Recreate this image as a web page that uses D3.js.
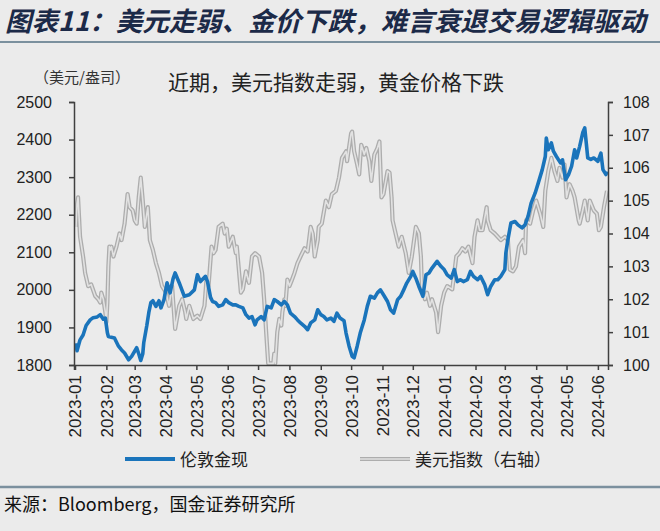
<!DOCTYPE html>
<html><head><meta charset="utf-8">
<script src="https://cdn.jsdelivr.net/npm/d3@7"></script>
<style>
html,body{margin:0;padding:0;background:#ebebeb;}
svg{display:block;}
</style></head>
<body>
<svg id="chart" width="660" height="531"></svg>
<script>
const titleText = "图表11：美元走弱、金价下跌，难言衰退交易逻辑驱动";
const subtitleText = "近期，美元指数走弱，黄金价格下跌";
const unitText = "（美元/盎司）";
const sourceText = "来源：Bloomberg，国金证券研究所";
const seriesNames = ["伦敦金现", "美元指数（右轴）"];
const leftTicks = [1800, 1900, 2000, 2100, 2200, 2300, 2400, 2500];
const rightTicks = [100, 101, 102, 103, 104, 105, 106, 107, 108];

const goldDates = ["2023-01-02","2023-01-03","2023-01-06","2023-01-09","2023-01-12","2023-01-16","2023-01-19","2023-01-23","2023-01-26","2023-01-29","2023-01-31","2023-02-02","2023-02-03","2023-02-06","2023-02-09","2023-02-13","2023-02-16","2023-02-19","2023-02-23","2023-02-26","2023-03-03","2023-03-05","2023-03-07","2023-03-09","2023-03-10","2023-03-13","2023-03-15","2023-03-17","2023-03-19","2023-03-22","2023-03-25","2023-03-27","2023-03-30","2023-04-02","2023-04-05","2023-04-08","2023-04-10","2023-04-14","2023-04-19","2023-04-24","2023-04-29","2023-05-02","2023-05-05","2023-05-10","2023-05-12","2023-05-15","2023-05-17","2023-05-20","2023-05-23","2023-05-27","2023-05-30","2023-06-02","2023-06-06","2023-06-09","2023-06-12","2023-06-16","2023-06-19","2023-06-22","2023-06-25","2023-06-28","2023-06-30","2023-07-04","2023-07-07","2023-07-10","2023-07-14","2023-07-17","2023-07-20","2023-07-24","2023-07-27","2023-07-30","2023-08-02","2023-08-06","2023-08-09","2023-08-12","2023-08-16","2023-08-19","2023-08-22","2023-08-26","2023-08-29","2023-09-01","2023-09-04","2023-09-07","2023-09-11","2023-09-14","2023-09-17","2023-09-20","2023-09-24","2023-09-26","2023-09-29","2023-10-02","2023-10-04","2023-10-07","2023-10-10","2023-10-14","2023-10-17","2023-10-20","2023-10-24","2023-10-27","2023-10-30","2023-11-02","2023-11-06","2023-11-09","2023-11-12","2023-11-16","2023-11-19","2023-11-22","2023-11-25","2023-11-29","2023-12-01","2023-12-04","2023-12-07","2023-12-11","2023-12-14","2023-12-17","2023-12-20","2023-12-25","2023-12-29","2024-01-01","2024-01-04","2024-01-08","2024-01-11","2024-01-14","2024-01-17","2024-01-20","2024-01-24","2024-01-27","2024-01-30","2024-02-03","2024-02-06","2024-02-10","2024-02-13","2024-02-16","2024-02-20","2024-02-23","2024-02-26","2024-03-01","2024-03-02","2024-03-04","2024-03-07","2024-03-11","2024-03-14","2024-03-18","2024-03-21","2024-03-24","2024-03-27","2024-03-31","2024-04-03","2024-04-07","2024-04-10","2024-04-11","2024-04-13","2024-04-16","2024-04-18","2024-04-21","2024-04-25","2024-04-27","2024-04-30","2024-05-03","2024-05-06","2024-05-09","2024-05-11","2024-05-14","2024-05-17","2024-05-19","2024-05-22","2024-05-25","2024-05-28","2024-06-01","2024-06-04","2024-06-06","2024-06-09","2024-06-10"];
const goldPrice = [1858,1838,1867,1880,1905,1920,1926,1928,1934,1922,1925,1886,1876,1874,1872,1850,1840,1832,1814,1823,1846,1830,1812,1830,1860,1905,1940,1966,1971,1956,1971,1952,1974,2019,1992,2030,2045,2019,1983,1987,2000,2040,2022,2036,2022,1980,1969,1966,1956,1960,1974,1966,1960,1960,1956,1952,1934,1925,1929,1907,1920,1929,1920,1956,1952,1974,1969,1960,1969,1960,1938,1929,1920,1912,1903,1894,1912,1920,1947,1934,1929,1920,1925,1916,1938,1925,1918,1885,1850,1823,1819,1850,1885,1920,1956,1983,1978,1992,2000,1987,1969,1947,1938,1974,1983,2000,2018,2036,2049,2031,2009,1983,2040,2045,2058,2076,2062,2054,2040,2031,2054,2022,2027,2022,2027,2049,2036,2027,2036,2014,1987,2009,2027,2027,2036,2054,2098,2133,2178,2182,2173,2165,2173,2196,2231,2258,2284,2320,2355,2404,2373,2391,2369,2355,2338,2346,2293,2307,2329,2373,2351,2382,2418,2431,2351,2347,2351,2342,2364,2320,2307,2315];

const dxyDates = ["2023-01-02","2023-01-03","2023-01-04","2023-01-05","2023-01-06","2023-01-09","2023-01-11","2023-01-14","2023-01-17","2023-01-21","2023-01-24","2023-01-26","2023-01-27","2023-01-29","2023-01-31","2023-02-01","2023-02-02","2023-02-03","2023-02-04","2023-02-05","2023-02-06","2023-02-08","2023-02-11","2023-02-14","2023-02-16","2023-02-19","2023-02-22","2023-02-24","2023-02-27","2023-03-01","2023-03-03","2023-03-05","2023-03-07","2023-03-09","2023-03-11","2023-03-14","2023-03-16","2023-03-19","2023-03-22","2023-03-25","2023-03-28","2023-04-01","2023-04-04","2023-04-07","2023-04-10","2023-04-14","2023-04-17","2023-04-20","2023-04-21","2023-04-24","2023-04-28","2023-05-02","2023-05-05","2023-05-09","2023-05-11","2023-05-13","2023-05-16","2023-05-18","2023-05-20","2023-05-23","2023-05-27","2023-05-29","2023-05-31","2023-06-02","2023-06-06","2023-06-09","2023-06-10","2023-06-14","2023-06-16","2023-06-19","2023-06-22","2023-06-25","2023-06-28","2023-07-02","2023-07-05","2023-07-07","2023-07-09","2023-07-11","2023-07-14","2023-07-16","2023-07-17","2023-07-18","2023-07-20","2023-07-22","2023-07-24","2023-07-25","2023-07-27","2023-07-28","2023-07-30","2023-08-01","2023-08-03","2023-08-06","2023-08-09","2023-08-12","2023-08-16","2023-08-19","2023-08-22","2023-08-24","2023-08-26","2023-08-29","2023-08-30","2023-09-02","2023-09-06","2023-09-09","2023-09-12","2023-09-16","2023-09-19","2023-09-22","2023-09-26","2023-09-27","2023-10-01","2023-10-02","2023-10-04","2023-10-07","2023-10-09","2023-10-11","2023-10-14","2023-10-16","2023-10-19","2023-10-21","2023-10-24","2023-10-27","2023-10-29","2023-10-31","2023-11-02","2023-11-06","2023-11-08","2023-11-10","2023-11-11","2023-11-14","2023-11-17","2023-11-20","2023-11-24","2023-11-27","2023-11-30","2023-12-04","2023-12-07","2023-12-09","2023-12-10","2023-12-13","2023-12-15","2023-12-18","2023-12-20","2023-12-24","2023-12-26","2023-12-29","2024-01-01","2024-01-04","2024-01-09","2024-01-13","2024-01-16","2024-01-19","2024-01-22","2024-01-25","2024-01-29","2024-01-31","2024-02-03","2024-02-05","2024-02-08","2024-02-12","2024-02-13","2024-02-16","2024-02-20","2024-02-23","2024-02-26","2024-03-01","2024-03-04","2024-03-06","2024-03-09","2024-03-12","2024-03-15","2024-03-19","2024-03-21","2024-03-22","2024-03-26","2024-03-29","2024-04-01","2024-04-05","2024-04-08","2024-04-10","2024-04-13","2024-04-16","2024-04-19","2024-04-22","2024-04-24","2024-04-27","2024-04-29","2024-05-01","2024-05-04","2024-05-07","2024-05-09","2024-05-13","2024-05-14","2024-05-17","2024-05-19","2024-05-22","2024-05-24","2024-05-28","2024-05-31","2024-06-02","2024-06-04","2024-06-07","2024-06-10"];
const dxyValue = [104.2,104.9,105.1,104.5,103.9,103.3,102.8,102.4,102.45,102.1,102.0,101.9,102.2,102.0,101.6,101.3,101.9,103.0,103.6,103.5,103.6,103.3,103.6,104.0,103.8,104.3,105.2,104.8,104.7,104.4,104.3,105.1,105.7,105.0,104.2,104.8,103.8,103.5,103.1,102.8,102.4,102.2,101.8,102.4,101.1,101.8,102.0,101.6,101.4,101.8,101.4,101.5,101.4,101.8,102.6,102.4,103.6,103.4,103.5,104.2,104.3,104.0,104.15,103.6,103.9,103.4,103.6,102.2,102.3,102.85,102.5,103.3,103.4,103.3,102.8,102.0,101.0,100.05,100.05,100.05,100.35,100.05,101.0,101.4,101.2,101.6,102.0,101.8,102.6,102.4,102.55,102.8,103.1,103.3,103.55,103.45,104.2,104.0,103.3,103.8,104.2,104.3,105.0,104.8,105.2,105.3,105.7,106.3,106.5,106.2,107.05,107.1,106.5,106.1,105.8,106.7,106.4,106.6,106.2,105.6,106.4,106.6,106.8,105.1,105.2,105.9,105.85,105.1,104.4,104.0,103.6,103.9,103.4,102.8,103.3,104.2,104.0,103.3,102.4,102.0,102.2,101.8,102.0,101.6,101.0,101.8,102.2,102.4,102.3,103.3,103.4,103.55,103.45,103.6,103.1,103.9,104.4,104.1,104.1,104.8,104.4,104.1,104.0,103.9,103.8,103.9,103.8,102.9,102.85,103.0,103.6,103.8,103.4,104.4,104.3,104.7,105.0,104.6,104.2,105.3,105.9,106.3,105.9,105.6,106.0,105.7,106.1,105.1,105.5,105.3,105.1,104.4,104.3,104.7,105.0,104.4,105.0,104.7,104.6,104.1,104.2,104.8,105.3];

const parse = d3.timeParse("%Y-%m-%d");
const gold = goldDates.map((d, i) => ({date: parse(d), v: goldPrice[i]}));
const dxy = dxyDates.map((d, i) => ({date: parse(d), v: dxyValue[i]}));

const svg = d3.select("#chart");
const cjk = "'Noto Sans CJK SC', 'Noto Sans', sans-serif";
const latin = "'Liberation Sans', Arial, sans-serif";

// title
svg.append("text").attr("x", 5).attr("y", 31)
  .attr("font-family", cjk).attr("font-size", 26.5).attr("font-weight", "bold")
  .attr("font-style", "italic").attr("fill", "#1c2a48").text(titleText);
svg.append("line").attr("x1", 0).attr("x2", 660).attr("y1", 42).attr("y2", 42)
  .attr("stroke", "#7b909e").attr("stroke-width", 2);

const m = {left: 74, right: 608, top: 102, bottom: 365};
const x = d3.scaleTime().domain([parse("2022-12-31"), parse("2024-06-11")]).range([m.left, m.right]);
const yL = d3.scaleLinear().domain([1800, 2500]).range([m.bottom, m.top]);
const yR = d3.scaleLinear().domain([100, 108]).range([m.bottom, m.top]);

svg.append("text").attr("x", 34).attr("y", 83).attr("font-family", cjk)
  .attr("font-size", 15).attr("fill", "#333").text(unitText);
svg.append("text").attr("x", 168).attr("y", 90).attr("font-family", cjk)
  .attr("font-size", 21).attr("fill", "#222").text(subtitleText);

const lineL = d3.line().x(d => x(d.date)).y(d => yL(d.v));
const lineR = d3.line().x(d => x(d.date)).y(d => yR(d.v));

// DXY double line
svg.append("path").datum(dxy).attr("d", lineR).attr("fill", "none")
  .attr("stroke", "#adadad").attr("stroke-width", 4.2).attr("stroke-linejoin", "round");
svg.append("path").datum(dxy).attr("d", lineR).attr("fill", "none")
  .attr("stroke", "#e2e2e2").attr("stroke-width", 1.6).attr("stroke-linejoin", "round");
// gold
svg.append("path").datum(gold).attr("d", lineL).attr("fill", "none")
  .attr("stroke", "#1a74bb").attr("stroke-width", 3.6).attr("stroke-linejoin", "round");

// axes
const axisColor = "#404040";
const gL = svg.append("g").attr("transform", `translate(${m.left},0)`)
  .call(d3.axisLeft(yL).tickValues(leftTicks).tickSize(5).tickPadding(17).tickFormat(d3.format("d")));
const gR = svg.append("g").attr("transform", `translate(${m.right},0)`)
  .call(d3.axisRight(yR).tickValues(rightTicks).tickSize(5).tickPadding(10).tickFormat(d3.format("d")));
const monthTicks = d3.timeMonth.range(parse("2023-01-01"), parse("2024-06-02"));
const gB = svg.append("g").attr("transform", `translate(0,${m.bottom})`)
  .call(d3.axisBottom(x).tickValues(monthTicks).tickSize(5).tickPadding(6).tickFormat(d3.timeFormat("%Y-%m")));
[gL, gR, gB].forEach(g => {
  g.select(".domain").attr("stroke", axisColor).attr("stroke-width", 1.5);
  g.selectAll(".tick line").attr("stroke", axisColor).attr("stroke-width", 1.5);
  g.selectAll(".tick text").attr("font-family", latin).attr("font-size", 16).attr("fill", "#222");
});
gB.selectAll(".tick text")
  .attr("font-size", 17)
  .attr("transform", "rotate(-90)")
  .attr("text-anchor", "end").attr("dy", "0.35em").attr("x", -10).attr("y", 0);

// legend
svg.append("line").attr("x1", 125).attr("x2", 175).attr("y1", 459).attr("y2", 459)
  .attr("stroke", "#1a74bb").attr("stroke-width", 4);
svg.append("text").attr("x", 180).attr("y", 466).attr("font-family", cjk)
  .attr("font-size", 17).attr("fill", "#222").text(seriesNames[0]);
svg.append("line").attr("x1", 360).attr("x2", 410).attr("y1", 459).attr("y2", 459)
  .attr("stroke", "#adadad").attr("stroke-width", 4.2);
svg.append("line").attr("x1", 360).attr("x2", 410).attr("y1", 459).attr("y2", 459)
  .attr("stroke", "#e2e2e2").attr("stroke-width", 1.6);
svg.append("text").attr("x", 415).attr("y", 466).attr("font-family", cjk)
  .attr("font-size", 17).attr("fill", "#222").text(seriesNames[1]);

// footer
svg.append("line").attr("x1", 0).attr("x2", 660).attr("y1", 487).attr("y2", 487)
  .attr("stroke", "#7b909e").attr("stroke-width", 2.5);
svg.append("text").attr("x", 4).attr("y", 511).attr("font-family", cjk)
  .attr("font-size", 18).attr("fill", "#111").text(sourceText);
</script>
</body></html>
